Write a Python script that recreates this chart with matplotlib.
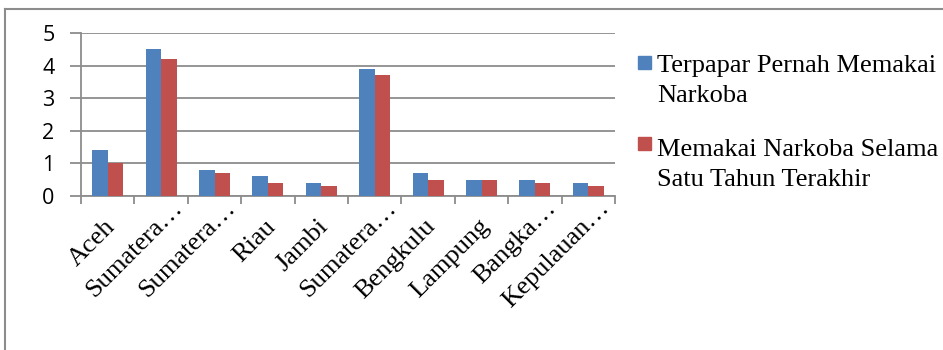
import matplotlib
matplotlib.use("Agg")
import matplotlib.pyplot as plt
import matplotlib.transforms as mtransforms
import numpy as np
from matplotlib.lines import Line2D
from matplotlib.patches import Rectangle

categories = ["Aceh", "Sumatera…", "Sumatera…", "Riau", "Jambi", "Sumatera…",
              "Bengkulu", "Lampung", "Bangka…", "Kepulauan…"]
series_names = ["Terpapar Pernah Memakai\nNarkoba",
                "Memakai Narkoba Selama\nSatu Tahun Terakhir"]
terpapar = [1.4, 4.5, 0.8, 0.6, 0.4, 3.9, 0.7, 0.5, 0.5, 0.4]
setahun = [1.0, 4.2, 0.7, 0.4, 0.3, 3.7, 0.5, 0.5, 0.4, 0.3]
yticks = [0, 1, 2, 3, 4, 5]

blue = "#4F81BD"
red = "#C0504D"
grey = "#8C8C8C"
serif = ["Liberation Serif", "DejaVu Serif"]

W, H = 943, 350
fig = plt.figure(figsize=(W / 100, H / 100), dpi=100)
ax = fig.add_axes([81 / W, 1 - 196 / H, (615 - 81) / W, (196 - 33) / H])

x = np.arange(len(categories))
bw = 0.29
ax.bar(x - bw / 2, terpapar, bw, color=blue, label=series_names[0], zorder=3)
ax.bar(x + bw / 2, setahun, bw, color=red, label=series_names[1], zorder=3)

ax.set_xlim(-0.5, len(categories) - 0.5)
ax.set_ylim(0, 5)
ax.set_yticks(yticks)
ax.yaxis.grid(True, color=grey, linewidth=1.3, zorder=0)
for s in ["top", "right"]:
    ax.spines[s].set_visible(False)
for s in ["left", "bottom"]:
    ax.spines[s].set_color(grey)
    ax.spines[s].set_linewidth(1.3)

ax.tick_params(axis="y", length=8, width=1.3, color=grey, labelsize=15.5, pad=11)
for lab in ax.get_yticklabels():
    lab.set_family(["Open Sans", "DejaVu Sans"])

ax.set_xticks(np.arange(len(categories) + 1) - 0.5, minor=False)
ax.set_xticklabels([])
ax.tick_params(axis="x", which="major", length=6, width=1.3, color=grey)
ax.set_xticks(x, minor=True)
ax.set_xticklabels(categories, minor=True, rotation=45, ha="right", va="center",
                   rotation_mode="anchor", fontsize=19, family=serif)
ax.tick_params(axis="x", which="minor", length=0, pad=0)
for lab in ax.get_xticklabels(minor=True):
    # truncated (ellipsis) labels sit higher/further right, as in the source
    if lab.get_text().endswith("…"):
        dx, dy = 18, 9
    else:
        dx, dy = 4, 27
    shift = mtransforms.ScaledTranslation(dx / 100, -dy / 100, fig.dpi_scale_trans)
    lab.set_transform(lab.get_transform() + shift)

# legend drawn as squares + two-line texts, square aligned with first line
leg_colors = [blue, red]
text_tops = [55, 139]   # top of text block, px from top
square_tops = [56, 137]  # top of colour square, px from top
for name, col, yt, ys in zip(series_names, leg_colors, text_tops, square_tops):
    fig.add_artist(Rectangle((638 / W, 1 - (ys + 13) / H), 13 / W, 13 / H,
                             transform=fig.transFigure, color=col))
    fig.text(657 / W, 1 - yt / H, name, transform=fig.transFigure,
             ha="left", va="top", fontsize=19, family=serif,
             linespacing=1.45)

# outer chart frame (left and top edges visible)
fig.add_artist(Line2D([5 / W, 5 / W], [0, 1 - 9 / H], transform=fig.transFigure,
                      color=grey, linewidth=1.5))
fig.add_artist(Line2D([5 / W, 1], [1 - 9 / H, 1 - 9 / H], transform=fig.transFigure,
                      color=grey, linewidth=1.5))

fig.savefig("out.png", dpi=100)
